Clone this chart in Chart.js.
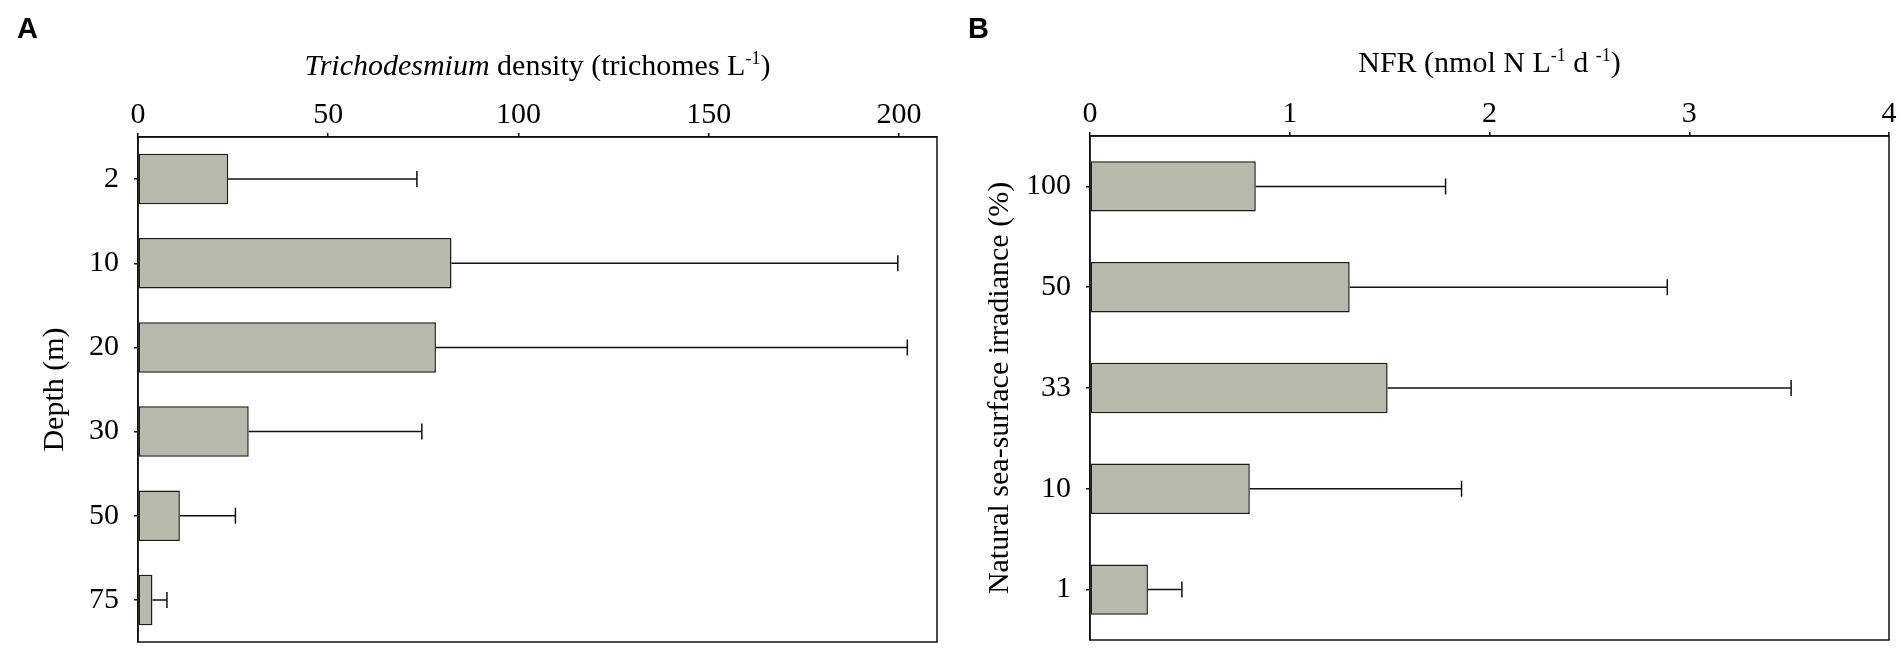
<!DOCTYPE html>
<html>
<head>
<meta charset="utf-8">
<script src="https://cdn.jsdelivr.net/npm/chart.js@4.4.0/dist/chart.umd.min.js"></script>
<style>
  html, body { margin: 0; padding: 0; background: #fff; }
  .panel { position: absolute; top: 0; height: 650px; }
  #panelA { left: 0; width: 950px; }
  #panelB { left: 950px; width: 952px; }
</style>
</head>
<body>
<div class="panel" id="panelA"><canvas id="chartA"></canvas></div>
<div class="panel" id="panelB"><canvas id="chartB"></canvas></div>
<script>
// panel A: Trichodesmium density by depth
const depthLabels = ['2', '10', '20', '30', '50', '75'];
const densityValues = [23.7, 82.4, 78.3, 29.1, 11.0, 3.8];
const densityErrors = [49.6, 117.3, 123.9, 45.5, 14.6, 3.8];
const densityTicks = [0, 50, 100, 150, 200];

// panel B: N2 fixation rate by irradiance
const irradianceLabels = ['100', '50', '33', '10', '1'];
const nfrValues = [0.83, 1.30, 1.49, 0.80, 0.29];
const nfrErrors = [0.95, 1.59, 2.02, 1.06, 0.17];
const nfrTicks = [0, 1, 2, 3, 4];

const SERIF = '"Liberation Serif", "Times New Roman", serif';

function partFont(p, size) {
    const s = p.sup ? Math.round(size * 0.6) : size;
    return (p.italic ? 'italic ' : '') + s + 'px ' + SERIF;
}

// error bars, frame box, top title with mixed styles and the panel letter
const panelDecor = {
    id: 'panelDecor',
    afterDatasetsDraw(chart, args, opts) {
        const ctx = chart.ctx;
        const meta = chart.getDatasetMeta(0);
        const xs = chart.scales.x;
        const vals = chart.data.datasets[0].data;
        ctx.save();
        ctx.strokeStyle = '#111';
        ctx.lineWidth = 1.5;
        meta.data.forEach((bar, i) => {
            const xEnd = xs.getPixelForValue(vals[i] + opts.errors[i]);
            ctx.beginPath();
            ctx.moveTo(bar.x, bar.y);
            ctx.lineTo(xEnd, bar.y);
            ctx.moveTo(xEnd, bar.y - 8);
            ctx.lineTo(xEnd, bar.y + 8);
            ctx.stroke();
        });
        ctx.restore();
    },
    afterDraw(chart, args, opts) {
        const ctx = chart.ctx;
        const a = chart.chartArea;
        ctx.save();
        ctx.strokeStyle = '#111';
        ctx.lineWidth = 1.5;
        ctx.strokeRect(a.left, a.top, a.right - a.left, a.bottom - a.top);

        ctx.fillStyle = '#000';
        ctx.textBaseline = 'alphabetic';
        ctx.textAlign = 'left';
        const size = 30;
        let total = 0;
        opts.title.forEach(p => {
            ctx.font = partFont(p, size);
            p.w = ctx.measureText(p.text).width;
            total += p.w;
        });
        let x = (a.left + a.right) / 2 - total / 2;
        opts.title.forEach(p => {
            ctx.font = partFont(p, size);
            ctx.fillText(p.text, x, p.sup ? opts.titleY - size * 0.38 : opts.titleY);
            x += p.w;
        });

        ctx.font = 'bold 29px "Liberation Sans", Arial, sans-serif';
        ctx.fillText(opts.letter, opts.letterX, 38);
        ctx.restore();
    }
};

function makeChart(id, c) {
    new Chart(document.getElementById(id), {
        type: 'bar',
        data: {
            labels: c.labels,
            datasets: [{
                data: c.values,
                backgroundColor: '#b8b8ab',
                borderColor: '#1a1a1a',
                borderWidth: 1.5,
                borderSkipped: false,
                barPercentage: c.barPct,
                categoryPercentage: 1
            }]
        },
        options: {
            indexAxis: 'y',
            responsive: true,
            maintainAspectRatio: false,
            animation: false,
            layout: { padding: c.padding },
            plugins: {
                legend: { display: false },
                tooltip: { enabled: false },
                panelDecor: {
                    errors: c.errors,
                    title: c.title,
                    titleY: c.titleY,
                    letter: c.letter,
                    letterX: c.letterX
                }
            },
            scales: {
                x: {
                    type: 'linear',
                    position: 'top',
                    min: 0,
                    max: c.max,
                    afterBuildTicks: s => { s.ticks = c.ticks.map(v => ({ value: v })); },
                    afterFit: s => { s.height = c.xHeight; },
                    grid: { drawOnChartArea: false, tickLength: 4, color: '#111', lineWidth: 1.5 },
                    border: { display: true, color: '#111', width: 1.5 },
                    ticks: { color: '#000', padding: 0, font: { family: SERIF, size: 30 } }
                },
                y: {
                    type: 'category',
                    offset: true,
                    afterFit: s => {
                        s.width = c.yWidth;
                        // keep label overhang from shrinking the plot area
                        s.paddingTop = 0;
                        s.paddingBottom = 0;
                    },
                    grid: { drawOnChartArea: false, offset: false, tickLength: 4, color: '#111', lineWidth: 1.5 },
                    border: { display: true, color: '#111', width: 1.5 },
                    ticks: { color: '#000', padding: 15, font: { family: SERIF, size: 30 } },
                    title: {
                        display: true,
                        text: c.yTitle,
                        color: '#000',
                        font: { family: SERIF, size: 30 },
                        padding: { top: c.yTitlePad, bottom: 0 }
                    }
                }
            }
        },
        plugins: [panelDecor]
    });
}

makeChart('chartA', {
    labels: depthLabels,
    values: densityValues,
    errors: densityErrors,
    ticks: densityTicks,
    max: 210,
    barPct: 0.6,
    padding: { left: 0, right: 13, top: 0, bottom: 8 },
    xHeight: 137,
    yWidth: 138,
    yTitle: 'Depth (m)',
    yTitlePad: 37,
    title: [
        { text: 'Trichodesmium', italic: true },
        { text: ' density (trichomes L' },
        { text: '-1', sup: true },
        { text: ')' }
    ],
    titleY: 75,
    letter: 'A',
    letterX: 17
});

makeChart('chartB', {
    labels: irradianceLabels,
    values: nfrValues,
    errors: nfrErrors,
    ticks: nfrTicks,
    max: 4,
    barPct: 0.5,
    padding: { left: 0, right: 13, top: 0, bottom: 10 },
    xHeight: 136,
    yWidth: 140,
    yTitle: 'Natural sea-surface irradiance (%)',
    yTitlePad: 32,
    title: [
        { text: 'NFR (nmol N L' },
        { text: '-1', sup: true },
        { text: ' d ' },
        { text: '-1', sup: true },
        { text: ')' }
    ],
    titleY: 72,
    letter: 'B',
    letterX: 18
});
</script>
</body>
</html>
